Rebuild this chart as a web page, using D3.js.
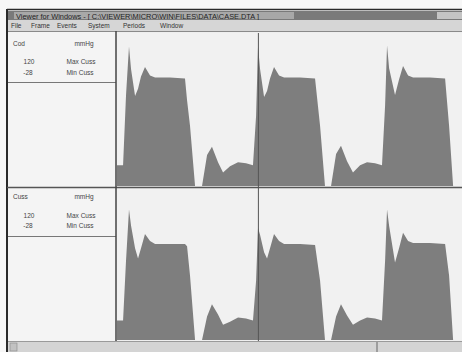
<!DOCTYPE html>
<html><head><meta charset="utf-8">
<script src="https://cdn.jsdelivr.net/npm/d3@7"></script>
<style>html,body{margin:0;padding:0;background:#f7f7f7;overflow:hidden}</style>
</head><body>
<script>
// ---- data ----
const timeSec = [0,0.047,0.070,0.093,0.109,0.140,0.163,0.186,0.217,0.256,
  0.295,0.411,0.527,0.543,0.566,0.605,0.659,0.698,0.736,0.783,
  0.822,0.876,0.938,1.000,1.054,1.078,1.093,1.109,1.140,1.163,
  1.186,1.217,1.256,1.295,1.419,1.535,1.574,1.612,1.659,1.698,
  1.736,1.783,1.829,1.884,1.938,2.000,2.054,2.078,2.093,2.109,
  2.155,2.186,2.217,2.256,2.295,2.426,2.543,2.574,2.605,2.674];
const codValues = [-8,-8,60,107,85,59,66,78,87,79,
  77,77,76,55,30,-28,-28,2,10,-5,
  -15,-9,-5,-6,-8,40,107,85,58,64,
  76,87,79,77,77,76,30,-28,-28,3,
  11,-4,-15,-8,-5,-6,-8,50,108,86,
  60,75,88,79,77,77,76,30,-28,-28];
const cussValues = [-9,-9,50,100,84,62,52,62,76,69,
  66,66,66,64,35,-28,-28,-5,7,-3,
  -13,-10,-6,-7,-9,30,82,75,58,52,
  62,76,69,66,66,65,30,-28,-28,-5,
  7,-4,-13,-9,-6,-7,-9,50,100,84,
  48,62,77,69,67,67,66,35,-28,-28];
const channelNames = ["Cod","Cuss"];
const unitLabel = "mmHg";
const maxLabels = ["120","120"];
const minLabels = ["-28","-28"];
const maxText = ["Max Cuss","Max Cuss"];
const minText = ["Min Cuss","Min Cuss"];
const yDomain = [-28,120];
const xDomain = [0,2.674];
const cursorTime = 1.096;
const titleText = "Viewer for Windows - [ C:\\VIEWER\\MICRO\\WIN\\FILES\\DATA\\CASE.DTA ]";
const menuItems = ["File","Frame","Events","System","Periods","Window"];

// ---- drawing ----
const W=462,H=352;
const svg=d3.select("body").append("svg").attr("width",W).attr("height",H)
  .style("font-family","'Liberation Sans',Arial,sans-serif");
svg.append("rect").attr("width",W).attr("height",H).attr("fill","#f7f7f7");

// window frame
svg.append("rect").attr("x",7).attr("y",9).attr("width",W-7).attr("height",H-9).attr("fill","#efefef");
// title bar
svg.append("rect").attr("x",8).attr("y",11).attr("width",W-8).attr("height",9).attr("fill","#7a7a7a");
svg.append("rect").attr("x",14).attr("y",12).attr("width",280).attr("height",7).attr("fill","#a8a8a8");
svg.append("rect").attr("x",437).attr("y",12).attr("width",25).attr("height",7).attr("fill","#c4c4c4");
svg.append("text").attr("x",16).attr("y",18.5).attr("font-size",7.4).attr("fill","#1e1e1e").text(titleText);
// menu
svg.append("rect").attr("x",8).attr("y",20).attr("width",W-8).attr("height",11).attr("fill","#d6d6d6");
const menuX=[11,31,57,88,123,160];
menuItems.forEach((m,i)=>svg.append("text").attr("x",menuX[i]).attr("y",28).attr("font-size",6.5).attr("fill","#333").text(m));
svg.append("line").attr("x1",8).attr("x2",W).attr("y1",31.5).attr("y2",31.5).attr("stroke","#8a8a8a");

// outer border
svg.append("line").attr("x1",7).attr("x2",7).attr("y1",9).attr("y2",H).attr("stroke","#2a2a2a").attr("stroke-width",2);
svg.append("line").attr("x1",7).attr("x2",W).attr("y1",9.5).attr("y2",9.5).attr("stroke","#2a2a2a").attr("stroke-width",1.5);

// left panel
svg.append("rect").attr("x",8).attr("y",32).attr("width",108).attr("height",310).attr("fill","#f4f4f4");

const panels=[{top:33,bottom:186,values:codValues},{top:189,bottom:340,values:cussValues}];
const x=d3.scaleLinear().domain(xDomain).range([117,W]);
panels.forEach((p,i)=>{
  svg.append("rect").attr("x",117).attr("y",p.top).attr("width",W-117).attr("height",p.bottom-p.top).attr("fill","#f1f1f1");
  const y=d3.scaleLinear().domain(yDomain).range([p.bottom,p.top]).clamp(true);
  const data=timeSec.map((t,k)=>({t,v:p.values[k]}));
  svg.append("path").datum(data)
    .attr("d",d3.area().x(d=>x(d.t)).y0(p.bottom).y1(d=>y(d.v)))
    .attr("fill","#7e7e7e");
  const lines = i===0?[46,64,75]:[199,218,228];
  svg.append("text").attr("x",13).attr("y",lines[0]).attr("font-size",6.5).attr("fill","#444").text(channelNames[i]);
  svg.append("text").attr("x",84).attr("y",lines[0]).attr("font-size",6.5).attr("text-anchor","middle").attr("fill","#444").text(unitLabel);
  svg.append("text").attr("x",29).attr("y",lines[1]).attr("font-size",6.5).attr("text-anchor","middle").attr("fill","#444").text(maxLabels[i]);
  svg.append("text").attr("x",81).attr("y",lines[1]).attr("font-size",6.5).attr("text-anchor","middle").attr("fill","#444").text(maxText[i]);
  svg.append("text").attr("x",28).attr("y",lines[2]).attr("font-size",6.5).attr("text-anchor","middle").attr("fill","#444").text(minLabels[i]);
  svg.append("text").attr("x",80).attr("y",lines[2]).attr("font-size",6.5).attr("text-anchor","middle").attr("fill","#444").text(minText[i]);
  const bb = i===0?82.5:236.5;
  svg.append("line").attr("x1",8).attr("x2",116).attr("y1",bb).attr("y2",bb).attr("stroke","#777").attr("stroke-width",1.2);
});

// separators
svg.append("line").attr("x1",7).attr("x2",W).attr("y1",187.5).attr("y2",187.5).attr("stroke","#555").attr("stroke-width",1.5);
svg.append("line").attr("x1",116).attr("x2",116).attr("y1",31).attr("y2",342).attr("stroke","#444").attr("stroke-width",1.5);
// cursor
svg.append("line").attr("x1",x(cursorTime)).attr("x2",x(cursorTime)).attr("y1",33).attr("y2",352).attr("stroke","#555").attr("stroke-width",1);

// scroll bar
svg.append("rect").attr("x",8).attr("y",342).attr("width",W-8).attr("height",10).attr("fill","#d4d4d4");
svg.append("line").attr("x1",8).attr("x2",W).attr("y1",341.5).attr("y2",341.5).attr("stroke","#9a9a9a");
svg.append("rect").attr("x",10).attr("y",343).attr("width",7).attr("height",8).attr("fill","#c2c2c2").attr("stroke","#888").attr("stroke-width",0.6);
svg.append("line").attr("x1",377).attr("x2",377).attr("y1",342).attr("y2",352).attr("stroke","#666");
</script>
</body></html>
